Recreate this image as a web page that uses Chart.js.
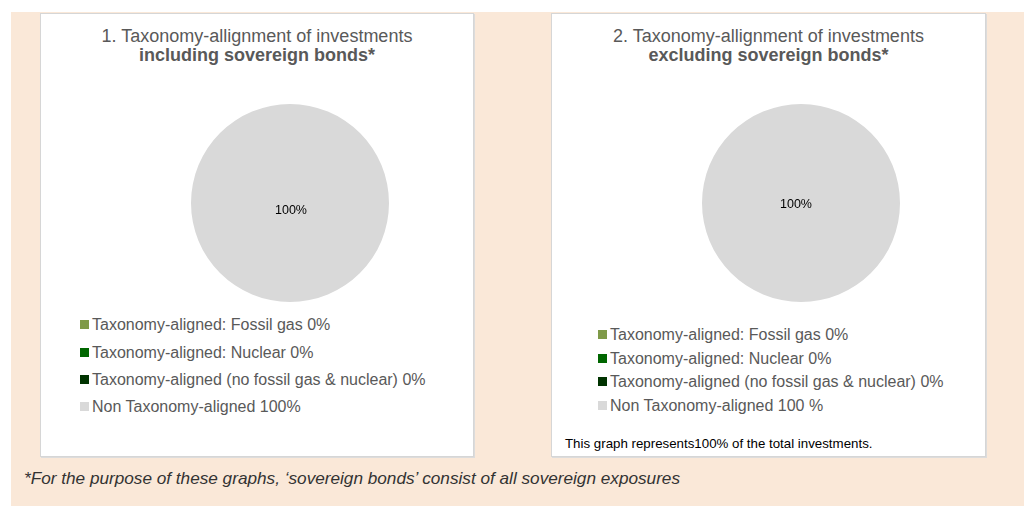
<!DOCTYPE html>
<html>
<head>
<meta charset="utf-8">
<script src="https://cdn.jsdelivr.net/npm/chart.js@4"></script>
<style>
  html, body { margin:0; padding:0; background:#ffffff; }
  body { width:1024px; height:506px; position:relative; overflow:hidden; font-family:"Liberation Sans", Arial, sans-serif; }
  #bg { position:absolute; left:11px; top:12px; width:1013px; height:494px; background:#FAE8D8; }
  .panel { position:absolute; top:13px; height:442px; background:#ffffff; border:1px solid #d6d6d6; box-shadow:1px 1px 0 #dcdcdc; }
  .title { position:absolute; left:0; right:0; text-align:center; color:#595959; font-size:18px; line-height:19px; height:19px; white-space:nowrap; }
  .t1 { top:13px; }
  .t2 { top:32px; font-weight:bold; }
  .cv { position:absolute; width:220px; height:220px; }
  .legend { position:absolute; color:#595959; font-size:16px; }
  .legend .item { position:absolute; left:0; white-space:nowrap; line-height:18px; }
  .legend .sw { display:inline-block; width:9px; height:9px; margin-right:3px; vertical-align:1px; }
  .note { position:absolute; left:13px; top:422px; font-size:13.3px; color:#000; white-space:nowrap; }
  #foot { position:absolute; left:24px; top:469px; font-style:italic; font-size:17px; color:#333; white-space:nowrap; transform-origin:0 50%; }
</style>
</head>
<body>
<div id="bg"></div>
<div class="panel" id="p1" style="left:40px;width:432px;">
  <div class="title t1">1. Taxonomy-allignment of investments</div>
  <div class="title t2">including sovereign bonds*</div>
  <div class="cv" style="left:139px;top:79px;"><canvas id="c1" width="220" height="220"></canvas></div>
  <div class="legend" id="lg1" style="left:39px;top:0;"></div>
</div>
<div class="panel" id="p2" style="left:551px;width:433px;">
  <div class="title t1">2. Taxonomy-allignment of investments</div>
  <div class="title t2">excluding sovereign bonds*</div>
  <div class="cv" style="left:139px;top:79px;"><canvas id="c2" width="220" height="220"></canvas></div>
  <div class="legend" id="lg2" style="left:46px;top:0;"></div>
  <div class="note">This graph represents100% of the total investments.</div>
</div>
<div id="foot">*For the purpose of these graphs, ‘sovereign bonds’ consist of all sovereign exposures</div>

<script>
const categories = [
  "Taxonomy-aligned: Fossil gas",
  "Taxonomy-aligned: Nuclear",
  "Taxonomy-aligned (no fossil gas & nuclear)",
  "Non Taxonomy-aligned"
];
const colors = ["#7F9A48", "#006600", "#003300", "#D9D9D9"];
const valuesIncl = [0, 0, 0, 100];
const valuesExcl = [0, 0, 0, 100];
const legendLabelsIncl = ["0%", "0%", "0%", "100%"];
const legendLabelsExcl = ["0%", "0%", "0%", "100 %"];

const centerLabel = {
  id: 'centerLabel',
  afterDatasetsDraw(chart, args, opts) {
    const ctx = chart.ctx;
    const meta = chart.getDatasetMeta(0);
    const data = chart.data.datasets[0].data;
    const total = data.reduce((a, b) => a + b, 0);
    ctx.save();
    ctx.font = '12.5px "Liberation Sans", Arial, sans-serif';
    ctx.fillStyle = '#000';
    ctx.textAlign = 'center';
    ctx.textBaseline = 'middle';
    meta.data.forEach((arc, i) => {
      const v = data[i];
      if (!v) return;
      let x, y;
      if (v === total) { x = arc.x; y = arc.y; }
      else { const p = arc.tooltipPosition(); x = p.x; y = p.y; }
      ctx.fillText(Math.round(v / total * 100) + '%', x + (opts.dx || 0), y + (opts.dy || 0));
    });
    ctx.restore();
  }
};

function makePie(id, values, dx, dy) {
  return new Chart(document.getElementById(id), {
    type: 'pie',
    data: { labels: categories, datasets: [{ data: values, backgroundColor: colors, borderWidth: 0 }] },
    options: {
      responsive: false,
      animation: false,
      layout: { padding: 11 },
      plugins: { legend: { display: false }, tooltip: { enabled: false }, title: { display: false }, centerLabel: { dx: dx, dy: dy } }
    },
    plugins: [centerLabel]
  });
}
makePie('c1', valuesIncl, 1, 8);
makePie('c2', valuesExcl, -5, 2);

function makeLegend(id, labels, tops) {
  const el = document.getElementById(id);
  categories.forEach((c, i) => {
    const d = document.createElement('div');
    d.className = 'item';
    d.style.top = tops[i] + 'px';
    d.innerHTML = '<span class="sw" style="background:' + colors[i] + '"></span>' + c + ' ' + labels[i];
    el.appendChild(d);
  });
}
makeLegend('lg1', legendLabelsIncl, [302, 330, 357, 384]);
makeLegend('lg2', legendLabelsExcl, [312, 336, 359, 383]);

// fit footnote to reference width
const foot = document.getElementById('foot');
const w = foot.getBoundingClientRect().width;
foot.style.transform = 'scaleX(' + (656 / w) + ')';
</script>
</body>
</html>
